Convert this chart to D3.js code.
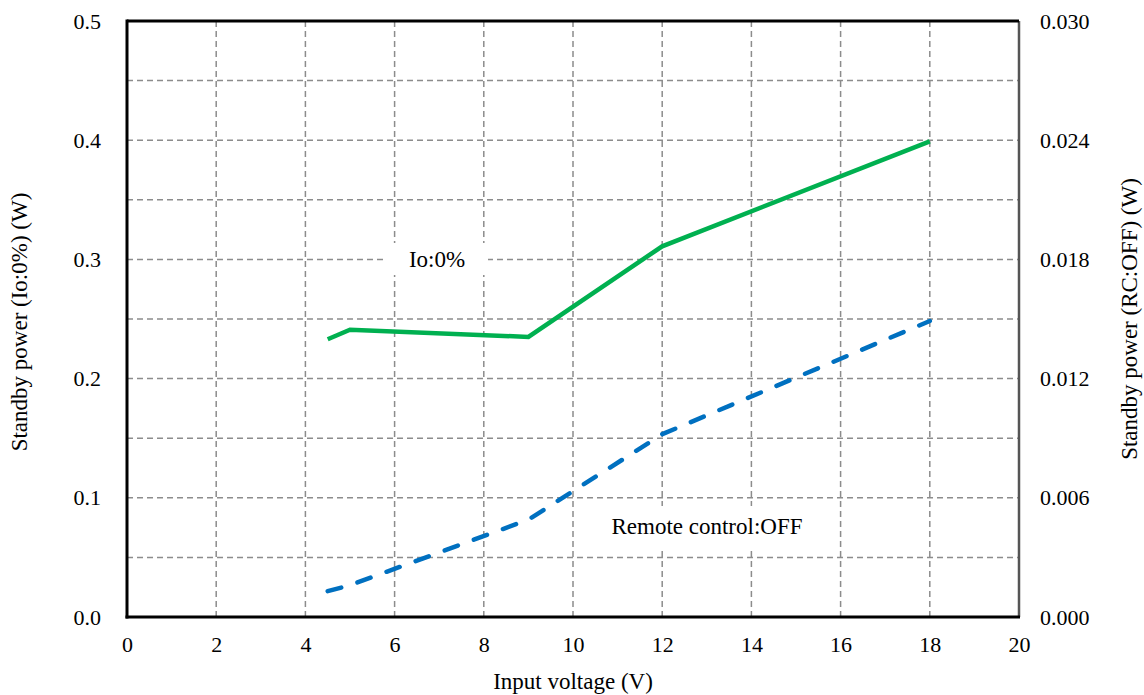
<!DOCTYPE html>
<html>
<head>
<meta charset="utf-8">
<script src="https://cdn.jsdelivr.net/npm/d3@7"></script>
<style>
  html, body { margin: 0; padding: 0; background: #fff; }
  svg { display: block; }
  text { font-family: "Liberation Serif", "Times New Roman", serif; fill: #000; }
</style>
</head>
<body>
<svg id="chart" width="1144" height="695"></svg>
<script>
// Input voltage (V)
const voltage = [4.5, 5, 9, 12, 18];
// Standby power at Io:0% (W), left axis
const powerIo0 = [0.233, 0.241, 0.235, 0.311, 0.399];
// Standby power with remote control OFF (W), right axis
const powerRcOff = [0.0013, 0.0016, 0.0049, 0.0092, 0.0149];

const xTicks = [0, 2, 4, 6, 8, 10, 12, 14, 16, 18, 20];
const yLeftTicks = [0, 0.1, 0.2, 0.3, 0.4, 0.5];
const yRightTicks = [0, 0.006, 0.012, 0.018, 0.024, 0.030];
const yGridTicks = [0.05, 0.1, 0.15, 0.2, 0.25, 0.3, 0.35, 0.4, 0.45];

const margin = { left: 127, right: 125, top: 21, bottom: 78 };
const W = 1144, H = 695;
const svg = d3.select("#chart");

const x = d3.scaleLinear().domain([0, 20]).range([margin.left, W - margin.right]);
const yL = d3.scaleLinear().domain([0, 0.5]).range([H - margin.bottom, margin.top]);
const yR = d3.scaleLinear().domain([0, 0.030]).range([H - margin.bottom, margin.top]);

// Dashed grid
const grid = svg.append("g").attr("stroke", "#8c8c8c").attr("stroke-width", 1.5)
  .attr("stroke-dasharray", "6,4");
grid.selectAll("line.h").data(yGridTicks).join("line")
  .attr("x1", x(0)).attr("x2", x(20))
  .attr("y1", d => yL(d)).attr("y2", d => yL(d));
grid.selectAll("line.v").data(xTicks.slice(1, -1)).join("line")
  .attr("y1", yL(0)).attr("y2", yL(0.5))
  .attr("x1", d => x(d)).attr("x2", d => x(d));

// Annotation boxes that cover the grid behind the labels
svg.append("rect").attr("x", 387).attr("y", 243).attr("width", 101).attr("height", 32).attr("fill", "#fff");
svg.append("rect").attr("x", 600).attr("y", 506).attr("width", 212).attr("height", 41).attr("fill", "#fff");
svg.append("text").attr("x", 437).attr("y", 267).attr("text-anchor", "middle")
  .style("font-size", "23px").text("Io:0%");
svg.append("text").attr("x", 707).attr("y", 534).attr("text-anchor", "middle")
  .style("font-size", "23px").text("Remote control:OFF");

// Series lines
svg.append("path")
  .datum(voltage.map((v, i) => [v, powerIo0[i]]))
  .attr("fill", "none").attr("stroke", "#00b050").attr("stroke-width", 4.5)
  .attr("d", d3.line().x(d => x(d[0])).y(d => yL(d[1])));

svg.append("path")
  .datum(voltage.map((v, i) => [v, powerRcOff[i]]))
  .attr("fill", "none").attr("stroke", "#0070c0").attr("stroke-width", 4.5)
  .attr("stroke-dasharray", "14,17").attr("stroke-linecap", "round")
  .attr("d", d3.line().x(d => x(d[0])).y(d => yR(d[1])));

// Frame
svg.append("line").attr("x1", x(20)).attr("x2", x(20)).attr("y1", yL(0)).attr("y2", yL(0.5))
  .attr("stroke", "#555").attr("stroke-width", 2.5);
svg.append("line").attr("x1", x(0)).attr("x2", x(20)).attr("y1", yL(0.5)).attr("y2", yL(0.5))
  .attr("stroke", "#000").attr("stroke-width", 3);
svg.append("line").attr("x1", x(0)).attr("x2", x(0)).attr("y1", yL(0) + 1.5).attr("y2", yL(0.5) - 1.5)
  .attr("stroke", "#000").attr("stroke-width", 3);
svg.append("line").attr("x1", x(0) - 1.5).attr("x2", x(20) + 1).attr("y1", yL(0)).attr("y2", yL(0))
  .attr("stroke", "#000").attr("stroke-width", 3);

// Axes (labels only)
const axisFont = g => {
  g.select(".domain").remove();
  g.selectAll(".tick line").remove();
  g.selectAll("text").style("font-size", "22px").attr("font-family", null);
};
svg.append("g").attr("transform", `translate(0,${yL(0)})`)
  .call(d3.axisBottom(x).tickValues(xTicks).tickFormat(d3.format("d")).tickSize(0).tickPadding(19))
  .call(axisFont);
svg.append("g").attr("transform", `translate(${x(0)},0)`)
  .call(d3.axisLeft(yL).tickValues(yLeftTicks).tickFormat(d3.format(".1f")).tickSize(0).tickPadding(26))
  .call(axisFont);
svg.append("g").attr("transform", `translate(${x(20)},0)`)
  .call(d3.axisRight(yR).tickValues(yRightTicks).tickFormat(d3.format(".3f")).tickSize(0).tickPadding(21))
  .call(axisFont);

// Axis titles
svg.append("text").attr("x", (x(0) + x(20)) / 2).attr("y", 689).attr("text-anchor", "middle")
  .style("font-size", "23px").text("Input voltage (V)");
svg.append("text").attr("transform", `translate(27,${(yL(0) + yL(0.5)) / 2 + 3}) rotate(-90)`)
  .attr("text-anchor", "middle").style("font-size", "23px").text("Standby power (Io:0%) (W)");
svg.append("text").attr("transform", `translate(1137,${(yL(0) + yL(0.5)) / 2}) rotate(-90)`)
  .attr("text-anchor", "middle").style("font-size", "23px").text("Standby power (RC:OFF) (W)");
</script>
</body>
</html>
